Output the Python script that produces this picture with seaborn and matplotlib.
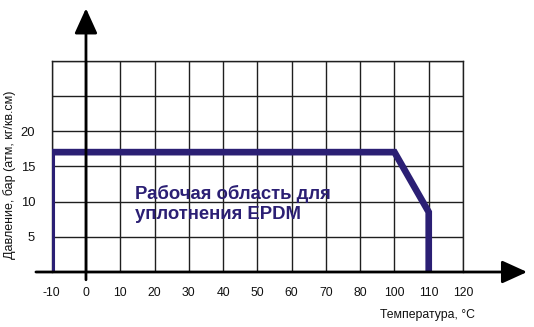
import matplotlib
matplotlib.use("Agg")
import matplotlib.pyplot as plt
import seaborn as sns
import pandas as pd

# ---- data ----
x_tick_labels = ["-10", "0", "10", "20", "30", "40", "50", "60", "70", "80", "100", "110", "120"]
y_tick_values = [0, 5, 10, 15, 20, 25, 30]
y_tick_labels = ["", "5", "10", "15", "20", "", ""]
boundary_temp = [-10, -10, 100, 110, 110]        # as labelled on the chart
boundary_pressure = [0, 17, 17, 8.5, 0]
area_text = "Рабочая область для\nуплотнения EPDM"
x_title = "Температура, °C"
y_title = "Давление, бар (атм, кг/кв.см)"

# evenly spaced label slots (the chart omits "90")
x_positions = [i * 10 - 10 for i in range(len(x_tick_labels))]
pos_of = {lab: p for lab, p in zip(x_tick_labels, x_positions)}
df = pd.DataFrame({
    "pos": [pos_of[str(t)] for t in boundary_temp],
    "pressure": boundary_pressure,
})

sns.set_theme(style="white")
plt.rcParams["font.family"] = ["Liberation Sans", "DejaVu Sans"]

W, H = 534, 327
fig = plt.figure(figsize=(W / 100, H / 100), dpi=100)
ax = fig.add_axes([51.7 / W, 55 / H, (463 - 51.7) / W, (272 - 60.5) / H])

NAVY = "#2b1f74"
GRID = "#1f1f1f"

ax.set_xlim(x_positions[0], x_positions[-2])
ax.set_ylim(0, 30)
ax.set_xticks(x_positions)
ax.set_xticklabels(x_tick_labels, fontsize=8.8, color="#111111")
ax.set_yticks(y_tick_values)
ax.set_yticklabels(y_tick_labels, fontsize=9.4, color="#111111")
ax.tick_params(axis="x", length=0, pad=11)
ax.tick_params(axis="y", length=0, pad=12)
ax.grid(True, color=GRID, lw=1.0)
for s in ["top", "right", "left"]:
    ax.spines[s].set_visible(True)
    ax.spines[s].set_color(GRID)
    ax.spines[s].set_linewidth(1.0)
ax.spines["bottom"].set_visible(False)

sns.lineplot(data=df, x="pos", y="pressure", sort=False, estimator=None,
             color=NAVY, lw=4.8, ax=ax, zorder=5,
             solid_joinstyle="miter", solid_capstyle="butt")
ax.set_xlabel("")
ax.set_ylabel("")

# axes arrows
arrow_kw = dict(arrowstyle="-|>,head_length=1.1,head_width=0.5",
                lw=2, color="black", mutation_scale=14, shrinkA=0, shrinkB=0)
ax.annotate("", xy=(128.7, 0), xytext=(-14.6, 0), xycoords="data",
            annotation_clip=False, arrowprops=arrow_kw, zorder=6)
ax.annotate("", xy=(0, 37.4), xytext=(0, -1.1), xycoords="data",
            annotation_clip=False, arrowprops=arrow_kw, zorder=6)

ax.text(14.3, 9.6, area_text, color=NAVY, fontsize=13.3, fontweight="bold",
        ha="left", va="center", linespacing=1.25, zorder=7)

fig.text(427 / W, 1 - 315 / H, x_title, fontsize=8.8, ha="center", va="center",
         color="#111111")
fig.text(10 / W, 1 - 175 / H, y_title, fontsize=9.0, ha="center", va="center",
         rotation=90, color="#111111")

fig.savefig("out.png", dpi=100)
